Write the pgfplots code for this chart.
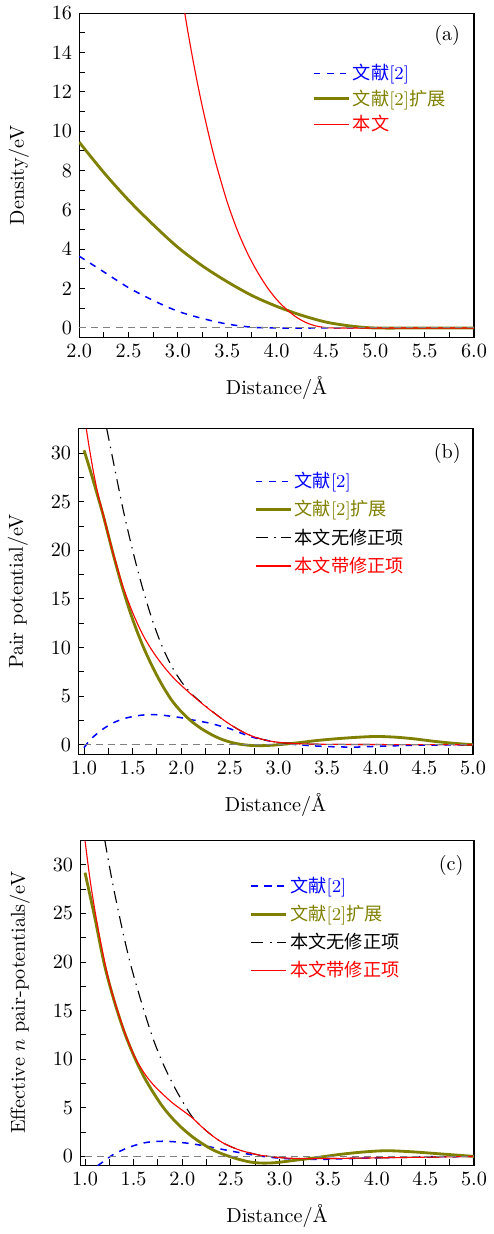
\documentclass[border=0pt]{standalone}
\usepackage{fontspec}
\newfontfamily\cjk{Noto Sans CJK SC}
\usepackage{pgfplots}
\pgfplotsset{compat=1.18}
\definecolor{olivec}{RGB}{128,128,0}
\definecolor{zerogray}{RGB}{128,128,128}

\pgfplotsset{
  panel/.style={
    scale only axis, width=195.5pt, height=160.7pt,
    tick align=inside, xtick pos=left, ytick pos=left,
    major tick length=3pt, minor tick length=3pt,
    axis line style={line width=0.6pt},
    every tick/.style={black, line width=0.5pt},
    xlabel={Distance/\AA},
    every axis x label/.append style={yshift=-2.5pt},
    every axis y label/.append style={yshift=4.5pt},
    x tick label style={/pgf/number format/.cd, fixed, fixed zerofill, precision=1},
    y tick label style={/pgf/number format/fixed},
    minor x tick num=1, minor y tick num=1,
    legend style={draw=none, fill=none, anchor=north west, font=\small,
      row sep=0.5pt, inner sep=1pt, nodes={inner sep=1.5pt}},
    legend cell align=left,
  },
  cblue/.style={blue, line width=0.75pt, dash pattern=on 3.2pt off 3.2pt, smooth},
  colive/.style={olivec, line width=1.4pt, smooth},
  cred/.style={red, line width=0.55pt, smooth},
  cblack/.style={black, line width=0.55pt, dash pattern=on 6pt off 3pt on 0.7pt off 3pt, smooth},
  czero/.style={zerogray, line width=0.5pt, dash pattern=on 3.5pt off 2.5pt},
}

\begin{document}
\begin{tikzpicture}
\path (0,0) rectangle (241.57pt,-604.66pt);

% (a)
\begin{axis}[panel,
  at={(39.2pt,-166.6pt)}, anchor=south west,
  xmin=2, xmax=6, ymin=-0.5, ymax=16,
  xtick={2,2.5,3,3.5,4,4.5,5,5.5,6},
  ytick={0,2,4,6,8,10,12,14,16},
  ylabel={Density/eV},
  legend style={at={(0.585,0.86)}},
]
\addplot[cblue] coordinates {(2.0,3.65)(2.25,2.85)(2.5,2.05)(2.75,1.4)(3.0,0.85)(3.25,0.48)(3.5,0.2)(3.75,0.04)(4.0,0)(4.5,0)(5.0,0)(6.0,0)};
\addlegendentry{\textcolor{blue}{{\cjk 文献}[2]}}
\addplot[colive] coordinates {(2.0,9.45)(2.25,7.9)(2.5,6.5)(2.75,5.25)(3.0,4.1)(3.25,3.15)(3.5,2.35)(3.75,1.65)(4.0,1.1)(4.25,0.65)(4.5,0.3)(4.75,0.1)(5.0,0.0)(5.5,0)(6.0,0)};
\addlegendentry{\textcolor{olivec}{{\cjk 文献}[2]{\cjk 扩展}}}
\addplot[cred] coordinates {(3.07,16.0)(3.1,15.1)(3.15,13.7)(3.2,12.4)(3.25,11.2)(3.3,10.1)(3.35,9.05)(3.4,8.1)(3.5,6.4)(3.6,5.0)(3.7,3.85)(3.8,2.9)(3.9,2.1)(4.0,1.45)(4.1,0.95)(4.2,0.55)(4.3,0.27)(4.4,0.1)(4.5,0.02)(4.6,0)(5.0,0)(6.0,0)};
\addlegendentry{\textcolor{red}{\cjk 本文}}
\addplot[czero, forget plot] coordinates {(2,0)(6,0)};
\node at (rel axis cs:0.932,0.933) {(a)};
\end{axis}

% (b)
\begin{axis}[panel,
  at={(38.71pt,-372.89pt)}, anchor=south west, height=161.2pt,
  xmin=0.94, xmax=5, ymin=-1, ymax=32.5,
  xtick={1,1.5,2,2.5,3,3.5,4,4.5,5},
  ytick={0,5,10,15,20,25,30},
  ylabel={Pair potential/eV},
  legend style={at={(0.44,0.883)}, row sep=1.8pt},
]
\addplot[cblue] coordinates {(1.0,-0.3)(1.05,0.35)(1.1,0.85)(1.2,1.65)(1.3,2.25)(1.4,2.65)(1.5,2.9)(1.6,3.05)(1.7,3.1)(1.8,3.05)(1.9,2.92)(2.0,2.78)(2.1,2.58)(2.2,2.4)(2.3,2.2)(2.4,1.93)(2.5,1.65)(2.6,1.25)(2.7,0.88)(2.8,0.6)(2.9,0.4)(3.0,0.2)(3.2,0.0)(3.4,-0.14)(3.6,-0.22)(3.8,-0.24)(4.0,-0.17)(4.3,-0.08)(4.6,-0.03)(5.0,0)};
\addlegendentry{\textcolor{blue}{{\cjk 文献}[2]}}
\addplot[colive] coordinates {(1.0,30.3)(1.05,28.7)(1.1,27.0)(1.2,23.5)(1.3,19.6)(1.4,16.0)(1.5,12.9)(1.6,10.3)(1.7,8.1)(1.8,6.2)(1.9,4.6)(2.0,3.4)(2.1,2.45)(2.2,1.7)(2.3,1.1)(2.4,0.62)(2.5,0.28)(2.6,0.06)(2.7,-0.06)(2.8,-0.1)(2.9,-0.07)(3.0,0.0)(3.2,0.2)(3.4,0.44)(3.6,0.62)(3.8,0.76)(4.0,0.85)(4.2,0.78)(4.4,0.6)(4.6,0.35)(4.8,0.15)(5.0,0.0)};
\addlegendentry{\textcolor{olivec}{{\cjk 文献}[2]{\cjk 扩展}}}
\addplot[cblack] coordinates {(1.234,32.5)(1.3,29.2)(1.4,24.3)(1.5,20.0)(1.6,16.2)(1.7,12.9)(1.8,10.2)(1.9,8.1)(2.0,6.5)(2.1,5.3)(2.2,4.4)(2.3,3.58)(2.4,2.8)(2.5,2.1)(2.6,1.5)(2.7,1.0)(2.8,0.65)(2.9,0.4)(3.0,0.25)(3.2,0.1)(3.5,0.04)(4.0,0.02)(5.0,0)};
\addlegendentry{{\cjk 本文无修正项}}
\addplot[cred] coordinates {(1.024,32.5)(1.05,30.8)(1.1,27.9)(1.15,25.5)(1.2,23.6)(1.25,21.6)(1.3,19.7)(1.4,16.3)(1.5,13.6)(1.6,11.4)(1.7,9.7)(1.8,8.3)(1.9,7.1)(2.0,6.1)(2.1,5.2)(2.2,4.35)(2.3,3.55)(2.4,2.8)(2.5,2.1)(2.6,1.5)(2.7,1.0)(2.8,0.65)(2.9,0.4)(3.0,0.25)(3.2,0.1)(3.5,0.04)(4.0,0.02)(5.0,0)};
\addlegendentry{\textcolor{red}{\cjk 本文带修正项}}
\addplot[czero, forget plot] coordinates {(1,0)(5,0)};
\node at (rel axis cs:0.935,0.924) {(b)};
\end{axis}

% (c)
\begin{axis}[panel,
  at={(39.69pt,-576.24pt)}, anchor=south west, width=195pt,
  xmin=0.95, xmax=5, ymin=-0.9, ymax=32.5,
  xtick={1,1.5,2,2.5,3,3.5,4,4.5,5},
  ytick={0,5,10,15,20,25,30},
  ylabel={Effective $n$ pair-potentials/eV},
  legend style={at={(0.425,0.905)}, row sep=1.8pt},
]
\addplot[cblue] coordinates {(1.13,-0.95)(1.2,-0.45)(1.26,0)(1.3,0.25)(1.4,0.72)(1.5,1.1)(1.6,1.38)(1.7,1.52)(1.8,1.56)(1.9,1.52)(2.0,1.42)(2.1,1.3)(2.2,1.13)(2.3,0.95)(2.4,0.75)(2.5,0.55)(2.6,0.37)(2.7,0.2)(2.8,0.04)(2.9,-0.08)(3.0,-0.18)(3.2,-0.3)(3.4,-0.31)(3.6,-0.26)(3.8,-0.2)(4.0,-0.14)(4.3,-0.08)(4.6,-0.03)(5.0,0)};
\addlegendentry{\textcolor{blue}{{\cjk 文献}[2]}}
\addplot[colive] coordinates {(1.0,29.2)(1.1,24.6)(1.2,19.7)(1.3,16.0)(1.4,12.9)(1.5,10.4)(1.6,8.3)(1.7,6.6)(1.8,5.1)(1.9,3.9)(2.0,2.9)(2.1,2.05)(2.2,1.35)(2.3,0.75)(2.4,0.3)(2.5,-0.05)(2.6,-0.35)(2.7,-0.58)(2.8,-0.68)(2.9,-0.68)(3.0,-0.6)(3.2,-0.35)(3.4,-0.1)(3.6,0.18)(3.8,0.4)(4.0,0.55)(4.1,0.58)(4.2,0.56)(4.4,0.45)(4.6,0.3)(4.8,0.15)(5.0,0)};
\addlegendentry{\textcolor{olivec}{{\cjk 文献}[2]{\cjk 扩展}}}
\addplot[cblack] coordinates {(1.204,32.5)(1.25,29.9)(1.3,27.3)(1.35,24.9)(1.4,22.6)(1.45,20.5)(1.5,18.6)(1.6,15.2)(1.7,12.1)(1.8,9.6)(1.9,7.5)(2.0,5.7)(2.1,4.1)(2.2,3.05)(2.3,2.2)(2.4,1.5)(2.5,1.0)(2.6,0.62)(2.7,0.35)(2.8,0.12)(2.9,0.0)(3.0,-0.12)(3.2,-0.22)(3.5,-0.22)(4.0,-0.15)(4.5,-0.08)(5.0,0)};
\addlegendentry{{\cjk 本文无修正项}}
\addplot[cred] coordinates {(1.0,32.5)(1.05,28.6)(1.1,25.4)(1.15,22.6)(1.2,20.1)(1.25,17.9)(1.3,16.1)(1.4,13.0)(1.5,10.5)(1.6,8.7)(1.7,7.4)(1.8,6.4)(1.9,5.5)(2.0,4.75)(2.1,4.0)(2.2,3.05)(2.3,2.2)(2.4,1.5)(2.5,1.0)(2.6,0.62)(2.7,0.35)(2.8,0.12)(2.9,0.0)(3.0,-0.12)(3.2,-0.22)(3.5,-0.22)(4.0,-0.15)(4.5,-0.08)(5.0,0)};
\addlegendentry{\textcolor{red}{\cjk 本文带修正项}}
\addplot[czero, forget plot] coordinates {(1,0)(5,0)};
\node at (rel axis cs:0.942,0.924) {(c)};
\end{axis}
\end{tikzpicture}
\end{document}
